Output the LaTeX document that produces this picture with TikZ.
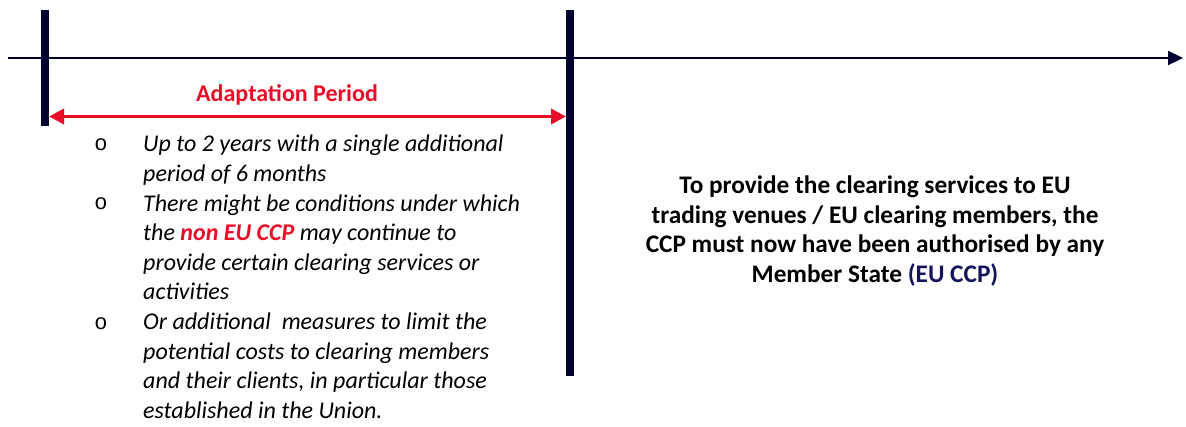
\documentclass[tikz,border=0pt]{standalone}
\usepackage{fontspec}
\setmainfont{Carlito}
\newfontfamily\monofam{Liberation Mono}
\usetikzlibrary{arrows.meta}
\definecolor{navy}{RGB}{0,0,48}
\definecolor{ered}{RGB}{232,14,40}
\definecolor{ccpblue}{RGB}{20,20,90}
\tikzset{
  bar/.style={draw=navy, line width=8pt},
  axis/.style={draw=navy, line width=2.2pt, -{Triangle[length=15pt,width=14pt]}},
  period/.style={draw=ered, line width=3.5pt, {Triangle[length=15pt,width=15pt]}-{Triangle[length=15pt,width=15pt]}},
  bullettext/.style={font=\fontsize{24}{29.6}\selectfont\itshape, align=left, anchor=north west, inner sep=0pt},
  bulletmark/.style={font=\fontsize{22}{24}\selectfont\monofam, inner sep=0pt},
}
\begin{document}
\begin{tikzpicture}[x=1pt,y=-1pt]
\useasboundingbox (0,0) rectangle (1186,426);
\coordinate (axs) at (8,58);
\coordinate (axe) at (1183,58);
\draw[axis] (axs) -- (axe);
\coordinate (b1t) at (45,10);
\coordinate (b1b) at (45,126);
\coordinate (b2t) at (570,10);
\coordinate (b2b) at (570,376);
\draw[bar] (b1t) -- (b1b);
\draw[bar] (b2t) -- (b2b);
\coordinate (ps) at (49,116.5);
\coordinate (pe) at (566,116.5);
\draw[period] (ps) -- (pe);
\node[text=ered, font=\fontsize{24}{28}\selectfont\bfseries, inner sep=0pt] (adapt) at (287,95) {Adaptation Period};
\node[bullettext] (list) at (143,135) {Up to 2 years with a single additional\\
period of 6 months\\
There might be conditions under which\\
the {\bfseries\color{ered}non EU CCP} may continue to\\
provide certain clearing services or\\
activities\\
Or additional\ \ measures to limit the\\
potential costs to clearing members\\
and their clients, in particular those\\
established in the Union.};
\node[bulletmark] (o1) at (101,145) {o};
\node[bulletmark] (o2) at (101,204) {o};
\node[bulletmark] (o3) at (101,324) {o};
\node[font=\fontsize{25.3}{29.7}\selectfont\bfseries, align=center, inner sep=0pt] (right) at (875,231) {To provide the clearing services to EU\\
trading venues / EU clearing members, the\\
CCP must now have been authorised by any\\
Member State {\color{ccpblue}(EU CCP)}};
\end{tikzpicture}
\end{document}
